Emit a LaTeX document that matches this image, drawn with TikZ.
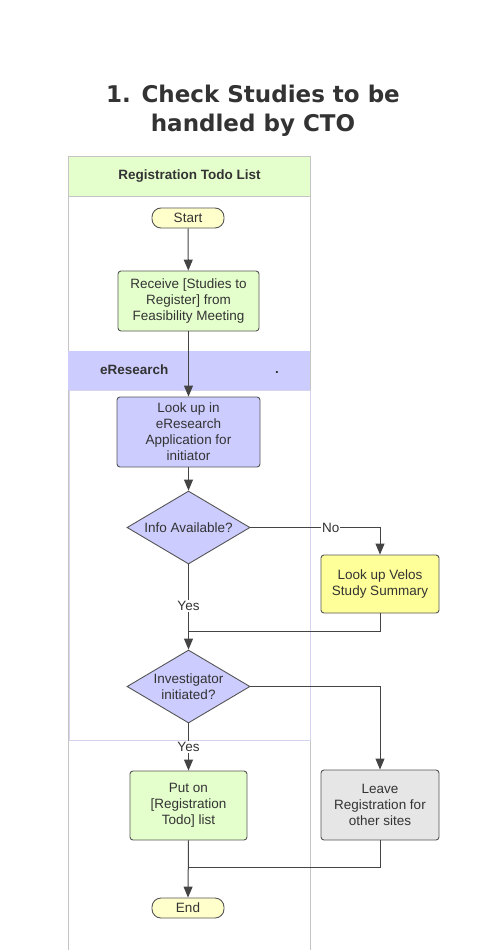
\documentclass[tikz,border=0pt]{standalone}
\usepackage{fontspec}
\setmainfont{Liberation Sans}
\newfontfamily\titlefont{DejaVu Sans}
\usetikzlibrary{shapes.geometric,arrows.meta}
\definecolor{txt}{HTML}{333333}
\definecolor{lanegreen}{HTML}{E5FFCC}
\definecolor{laneblue}{HTML}{CCCCFF}
\definecolor{lanegray}{HTML}{C4C4C4}
\definecolor{sublane}{HTML}{D4D4EE}
\definecolor{startfill}{HTML}{FFFFCC}
\definecolor{velosfill}{HTML}{FFFF99}
\definecolor{leavefill}{HTML}{E6E6E6}
\definecolor{edge}{HTML}{555555}
\definecolor{arrowc}{HTML}{444444}
\tikzset{
  base/.style={draw=edge, line width=0.9pt, text=txt, align=center, font=\fontsize{13.5}{16}\selectfont, inner sep=0pt},
  term/.style={base, rounded corners=9pt, fill=startfill, minimum width=72pt, minimum height=20pt},
  task/.style={base, rounded corners=3pt, minimum width=142pt, minimum height=60pt},
  dec/.style={base, diamond, aspect=1.68, fill=laneblue, minimum width=123pt, minimum height=73pt},
  flow/.style={draw=arrowc, line width=1pt, -{Triangle[length=11pt,width=9pt]}},
  joinline/.style={draw=arrowc, line width=1pt},
  lbl/.style={fill=white, text=txt, font=\fontsize{13.5}{16}\selectfont, inner sep=1pt},
  headtxt/.style={text=txt, font=\bfseries\fontsize{13.5}{16}\selectfont, inner sep=0pt}
}
\begin{document}
\begin{tikzpicture}[x=1pt,y=-1pt]
\useasboundingbox (0,0) rectangle (479,950);
\fill[white] (0,0) rectangle (479,950);
% title
\node[text=txt, font=\titlefont\bfseries\fontsize{23}{29}\selectfont, align=center] (title) at (253,111) {1. Check Studies to be\\handled by CTO};
% outer lane
\fill[lanegreen] (68,156) rectangle (310,196);
\draw[lanegray, line width=1pt] (68,950) -- (68,156) -- (310,156) -- (310,950);
\draw[lanegray, line width=1pt] (68,196) -- (310,196);
% eResearch sub-lane
\fill[laneblue] (68,351) rectangle (310,390);
\draw[sublane, line width=1pt] (69,390) rectangle (310,740);
\node[headtxt] (lanehead) at (189.5,176) {Registration Todo List};
\node[headtxt, anchor=west] (eres) at (100,370) {eResearch};
\node[headtxt] (dot) at (277,372) {.};
% nodes
\node[term] (start) at (188,218) {Start};
\node[task, fill=lanegreen, minimum width=141pt] (receive) at (188.5,301) {Receive [Studies to\\Register] from\\Feasibility Meeting};
\node[task, fill=laneblue, minimum width=143pt, minimum height=70pt] (lookup) at (188.5,432) {Look up in\\eResearch\\Application for\\initiator};
\node[dec] (info) at (188.5,527.5) {Info Available?};
\node[task, fill=velosfill, minimum width=118pt, minimum height=58pt] (velos) at (380,584) {Look up Velos\\Study Summary};
\node[dec] (invest) at (188.5,686.5) {Investigator\\initiated?};
\node[task, fill=lanegreen, minimum width=117pt, minimum height=69pt] (puton) at (188.5,805.5) {Put on\\{[}Registration\\Todo{]} list};
\node[task, fill=leavefill, minimum width=118pt, minimum height=70pt] (leave) at (380,805) {Leave\\Registration for\\other sites};
\node[term] (end) at (188,908) {End};
\coordinate (m1) at (188.5,631);
\coordinate (m2) at (188.5,867);
% connectors
\draw[flow] (start) -- (receive);
\draw[flow] (receive) -- (lookup);
\draw[flow] (lookup) -- (info);
\draw[flow] (info.east) -| node[lbl, pos=0.31] (nolbl) {No} (velos.north);
\draw[flow] (info.south) -- node[lbl, pos=0.49] (yes1) {Yes} (invest.north);
\draw[joinline] (velos.south) |- (m1);
\draw[flow] (invest.east) -| (leave.north);
\draw[flow] (invest.south) -- node[lbl, pos=0.5] (yes2) {Yes} (puton.north);
\draw[flow] (puton.south) -- (end.north);
\draw[joinline] (leave.south) |- (m2);
\end{tikzpicture}
\end{document}
